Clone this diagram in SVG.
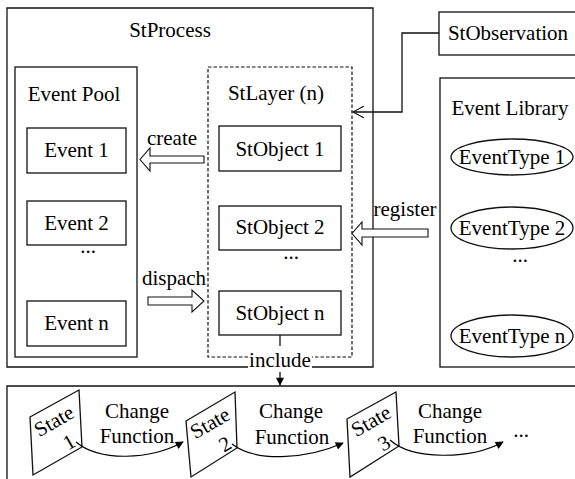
<svg xmlns="http://www.w3.org/2000/svg" width="575" height="479" viewBox="0 0 575 479">
<style>
text{font-family:"Liberation Serif","Times New Roman",serif;font-size:21px;fill:#000}
.m{text-anchor:middle}
.box{fill:#fff;stroke:#111;stroke-width:1.3}
.ln{fill:none;stroke:#111;stroke-width:1.3}
.dash{fill:none;stroke:#111;stroke-width:1.2;stroke-dasharray:3.5 2}
.blk{fill:#fff;stroke:#111;stroke-width:1.1}
.crv{fill:none;stroke:#000;stroke-width:1.2}
</style>
<defs>
<marker id="tri" viewBox="0 0 10 10" refX="9" refY="5" markerWidth="10" markerHeight="8" markerUnits="userSpaceOnUse" orient="auto">
<path d="M0,0 L10,5 L0,10 z" fill="#000"/>
</marker>
<marker id="open" viewBox="0 0 12 12" refX="11" refY="6" markerWidth="12" markerHeight="12" markerUnits="userSpaceOnUse" orient="auto">
<path d="M0,0 L11,6 L0,12" fill="none" stroke="#111" stroke-width="1.1"/>
</marker>
</defs>

<g id="stprocess">
<path class="ln" d="M248,367 H7 V8 H373 V367 H312"/>
<text class="m" x="170" y="37">StProcess</text>
</g>

<g id="eventpool">
<rect class="box" x="15" y="67" width="122" height="290"/>
<text class="m" x="74" y="101">Event Pool</text>
</g>
<g id="event1"><rect class="box" x="27" y="128" width="99" height="45"/><text class="m" x="76.5" y="157">Event 1</text></g>
<g id="event2"><rect class="box" x="27" y="201" width="99" height="44"/><text class="m" x="76.5" y="230">Event 2</text></g>
<text class="m" x="88" y="253">...</text>
<g id="eventn"><rect class="box" x="27" y="301" width="99" height="45"/><text class="m" x="76.5" y="330">Event n</text></g>

<g id="stlayer">
<path class="dash" d="M248,357 H208 V67 H352 V357 H312"/>
<text class="m" x="276" y="100">StLayer (n)</text>
</g>
<g id="stobject1"><rect class="box" x="219" y="126" width="122" height="45"/><text class="m" x="280" y="156">StObject 1</text></g>
<g id="stobject2"><rect class="box" x="219" y="206" width="122" height="44"/><text class="m" x="280" y="234">StObject 2</text></g>
<text class="m" x="291" y="259">...</text>
<g id="stobjectn"><rect class="box" x="219" y="291" width="122" height="44"/><text class="m" x="280" y="320">StObject n</text></g>

<g id="stobservation">
<rect class="box" x="439" y="12" width="150" height="43"/>
<text class="m" x="508" y="40">StObservation</text>
</g>

<g id="eventlibrary">
<rect class="box" x="440" y="78" width="150" height="289"/>
<text class="m" x="510" y="115">Event Library</text>
</g>
<g id="eventtype1"><ellipse class="box" cx="512" cy="157" rx="61" ry="18"/><text class="m" x="512" y="164">EventType 1</text></g>
<g id="eventtype2"><ellipse class="box" cx="512" cy="228" rx="61" ry="21"/><text class="m" x="512" y="235">EventType 2</text></g>
<text class="m" x="520" y="262">...</text>
<g id="eventtypen"><ellipse class="box" cx="512" cy="336" rx="61" ry="21"/><text class="m" x="512" y="343">EventType n</text></g>

<g id="statebox">
<path class="ln" d="M7,485 V386 H585"/>
</g>
<g id="state1">
<polygon class="box" points="30,417 79,390 82,447 33,475"/>
<text class="m" transform="translate(54,421) rotate(-30)" x="0" y="7">State</text>
<text class="m" transform="translate(69,442) rotate(-30)" x="0" y="7">1</text>
</g>
<g id="state2">
<polygon class="box" points="186,421 235,392 237,448 191,477"/>
<text class="m" transform="translate(210,423) rotate(-30)" x="0" y="7">State</text>
<text class="m" transform="translate(225,444) rotate(-30)" x="0" y="7">2</text>
</g>
<g id="state3">
<polygon class="box" points="347,419 396,392 399,446 350,477"/>
<text class="m" transform="translate(371,421) rotate(-30)" x="0" y="7">State</text>
<text class="m" transform="translate(384,443) rotate(-30)" x="0" y="7">3</text>
</g>
<text class="m" x="137" y="418">Change</text>
<text class="m" x="137" y="443">Function</text>
<text class="m" x="291" y="418">Change</text>
<text class="m" x="292" y="444">Function</text>
<text class="m" x="450" y="418">Change</text>
<text class="m" x="450" y="443">Function</text>
<text class="m" x="521" y="437">...</text>

<g id="connectors">
<polygon class="blk" points="204,156 150,156 150,148 140,159.5 150,171 150,163 204,163"/>
<text class="m" x="172" y="145">create</text>
<polygon class="blk" points="148,297 192,297 192,290 204,301 192,312 192,305 148,305"/>
<text class="m" x="174" y="285">dispach</text>
<polygon class="blk" points="428,229 362,229 362,222 352,233.5 362,245 362,237 428,237"/>
<text class="m" x="405" y="216">register</text>
<path class="ln" d="M439,33 H402 V112 H353" marker-end="url(#open)"/>
<path class="ln" d="M280,335 V346"/>
<text class="m" x="280" y="367">include</text>
<path class="ln" d="M280,372 V385" marker-end="url(#tri)"/>
<path class="crv" d="M76,442 C100,462 150,460 183,442" marker-end="url(#tri)"/>
<path class="crv" d="M232,444 C255,462 305,460 343,443" marker-end="url(#tri)"/>
<path class="crv" d="M390,440 C412,460 470,460 503,442" marker-end="url(#tri)"/>
</g>
</svg>
